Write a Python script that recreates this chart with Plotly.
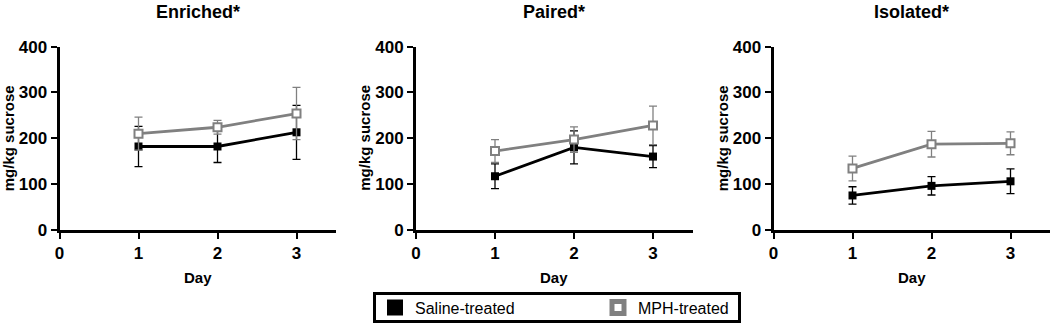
import plotly.graph_objects as go

# ---- data ----
days = [1, 2, 3]
panels = ["Enriched*", "Paired*", "Isolated*"]

saline_enriched = [182, 182, 213]
saline_enriched_err = [44, 35, 59]
mph_enriched = [210, 224, 254]
mph_enriched_err = [36, 15, 57]

saline_paired = [117, 180, 160]
saline_paired_err = [27, 36, 24]
mph_paired = [172, 197, 228]
mph_paired_err = [25, 28, 42]

saline_isolated = [75, 96, 106]
saline_isolated_err = [19, 20, 27]
mph_isolated = [134, 187, 189]
mph_isolated_err = [27, 28, 25]

y_ticks = [0, 100, 200, 300, 400]
x_ticks = [0, 1, 2, 3]
series_names = ["Saline-treated", "MPH-treated"]

saline = [saline_enriched, saline_paired, saline_isolated]
saline_err = [saline_enriched_err, saline_paired_err, saline_isolated_err]
mph = [mph_enriched, mph_paired, mph_isolated]
mph_err = [mph_enriched_err, mph_paired_err, mph_isolated_err]

W, H = 1050, 326
BLACK = "#000000"
GREY = "#808080"
FONT = "Liberation Sans"

fig = go.Figure()

x_dom_px = [(59.5, 336), (416, 692.5), (773.5, 1050)]
y_dom_px = (46.7, 229.8)

for i in range(3):
    xa = "x" if i == 0 else f"x{i+1}"
    ya = "y" if i == 0 else f"y{i+1}"
    fig.add_trace(go.Scatter(
        x=days, y=saline[i], xaxis=xa, yaxis=ya, mode="lines+markers",
        line=dict(color=BLACK, width=2.8),
        marker=dict(symbol="square", size=8, color=BLACK),
        error_y=dict(type="data", array=saline_err[i], color=BLACK, thickness=1.3, width=4),
        showlegend=False, cliponaxis=False))
    fig.add_trace(go.Scatter(
        x=days, y=mph[i], xaxis=xa, yaxis=ya, mode="lines+markers",
        line=dict(color=GREY, width=2.8),
        marker=dict(symbol="square", size=8, color="white", line=dict(color=GREY, width=2)),
        error_y=dict(type="data", array=mph_err[i], color=GREY, thickness=1.3, width=4),
        showlegend=False, cliponaxis=False))

# legend-only entries
fig.add_trace(go.Scatter(x=[None], y=[None], mode="markers", name=series_names[0],
                         marker=dict(symbol="square", size=16, color=BLACK),
                         legend="legend"))
fig.add_trace(go.Scatter(x=[None], y=[None], mode="markers", name=series_names[1],
                         marker=dict(symbol="square-open", size=12, color=GREY,
                                     line=dict(color=GREY, width=5)),
                         legend="legend2"))

tick_font = dict(family=FONT, size=17, color=BLACK)
axis_common = dict(showline=True, linecolor=BLACK, linewidth=3, showgrid=False,
                   zeroline=False, ticks="outside", ticklen=6, tickwidth=2,
                   tickcolor=BLACK, automargin=False)

layout = dict(width=W, height=H, margin=dict(l=0, r=0, t=0, b=0, pad=0, autoexpand=False),
              paper_bgcolor="white", plot_bgcolor="white")

annotations = []
for i in range(3):
    sx = "" if i == 0 else str(i + 1)
    x0, x1 = x_dom_px[i]
    layout["xaxis" + sx] = dict(axis_common, domain=[x0 / W, x1 / W], range=[0, 3.5],
                                tickvals=x_ticks, ticktext=[f"<b>{t}</b>" for t in x_ticks],
                                anchor="y" + sx, tickfont=tick_font)
    layout["yaxis" + sx] = dict(axis_common, domain=[1 - y_dom_px[1] / H, 1 - y_dom_px[0] / H],
                                range=[0, 400], tickvals=y_ticks,
                                ticktext=[f"<b>{t}</b>" for t in y_ticks],
                                anchor="x" + sx, tickfont=tick_font)
    cx = (x0 + x1) / 2
    annotations.append(dict(text=f"<b>{panels[i]}</b>", x=cx / W, y=1, xref="paper",
                            yref="paper", xanchor="center", yanchor="top", showarrow=False,
                            font=dict(family=FONT, size=18, color=BLACK)))
    annotations.append(dict(text="<b>Day</b>", x=cx / W, y=1 - 277 / H, xref="paper",
                            yref="paper", xanchor="center", yanchor="middle", showarrow=False,
                            font=dict(family=FONT, size=15, color=BLACK)))
    annotations.append(dict(text="<b>mg/kg sucrose</b>", x=(x0 - 51.5) / W,
                            y=1 - (y_dom_px[0] + y_dom_px[1]) / 2 / H, xref="paper",
                            yref="paper", xanchor="center", yanchor="middle", showarrow=False,
                            textangle=-90, font=dict(family=FONT, size=15, color=BLACK)))

layout["annotations"] = annotations
layout["shapes"] = [dict(type="rect", xref="paper", yref="paper",
                         x0=374.5 / W, x1=739.5 / W, y0=1 - 321.5 / H, y1=1 - 293.5 / H,
                         line=dict(color=BLACK, width=3), fillcolor="rgba(0,0,0,0)")]
leg_common = dict(orientation="h", xanchor="left", yanchor="middle", y=1 - 307.5 / H,
                  bgcolor="rgba(0,0,0,0)", borderwidth=0,
                  font=dict(family=FONT, size=16, color=BLACK))
layout["legend"] = dict(leg_common, x=375 / W)
layout["legend2"] = dict(leg_common, x=598 / W)

fig.update_layout(**layout)
fig.write_html("out.html", config={"displayModeBar": False},
               post_script="document.body.style.margin='0px';")
